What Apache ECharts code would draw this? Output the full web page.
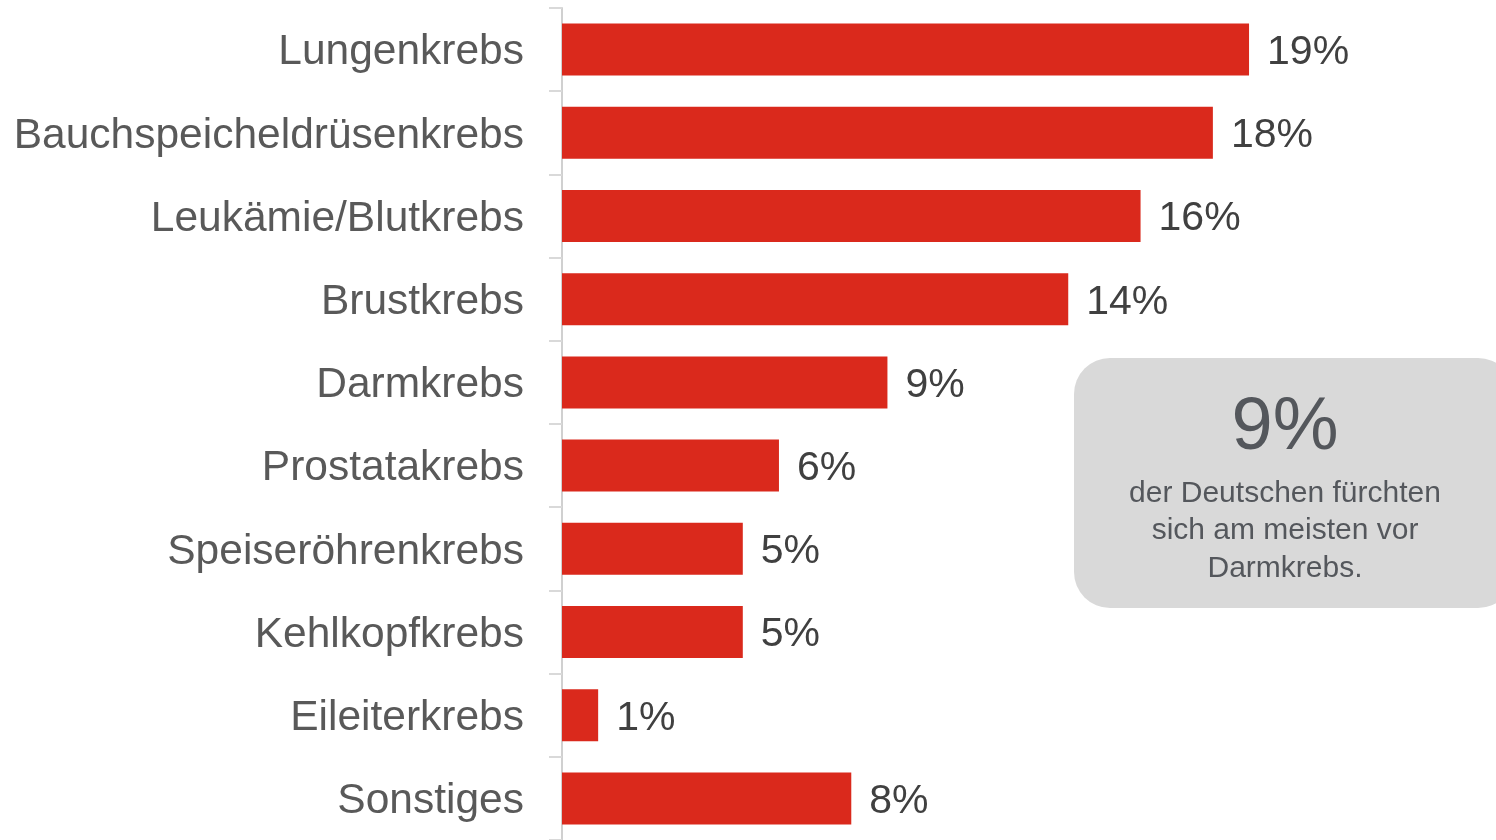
<!DOCTYPE html>
<html>
<head>
<meta charset="utf-8">
<script src="https://cdn.jsdelivr.net/npm/echarts@6/dist/echarts.min.js"></script>
<style>
html,body{margin:0;padding:0;background:#fff;}
#chart{width:1496px;height:840px;}
</style>
</head>
<body>
<div id="chart"></div>
<script>
var categories = ["Lungenkrebs","Bauchspeicheldrüsenkrebs","Leukämie/Blutkrebs","Brustkrebs","Darmkrebs","Prostatakrebs","Speiseröhrenkrebs","Kehlkopfkrebs","Eileiterkrebs","Sonstiges"];
var values = [19,18,16,14,9,6,5,5,1,8];
var calloutValue = "9%";
var calloutText = "der Deutschen fürchten\nsich am meisten vor\nDarmkrebs.";

var chart = echarts.init(document.getElementById('chart'));
var font = '"Liberation Sans", Arial, sans-serif';
chart.setOption({
  animation:false,
  grid:{left:562, right:30, top:8, bottom:-2, containLabel:false},
  xAxis:{type:'value', min:0, max:25, show:false},
  yAxis:{
    type:'category', data:categories, inverse:true,
    axisLine:{show:true, lineStyle:{color:'#d0d0d0', width:2}},
    axisTick:{show:true, length:13, lineStyle:{color:'#d9d9d9', width:2}},
    axisLabel:{
      margin:38,
      formatter:function(v){ return '{a|' + v + '}'; },
      rich:{a:{color:'#595959', fontSize:42.5, fontFamily:font, padding:[6,0,0,0]}}
    }
  },
  series:[{
    type:'bar', data:values, barWidth:52,
    itemStyle:{color:'#da291c'},
    label:{show:true, position:'right', distance:18, offset:[0,3], formatter:'{c}%', color:'#404040', fontSize:41, fontFamily:font}
  }],
  graphic:[
    {type:'rect', left:1074, top:358, shape:{width:440, height:250, r:36}, style:{fill:'#d9d9d9'}, z:10},
    {type:'text', x:1285, y:429, z:11, style:{text:calloutValue, fill:'#54575c', font:'74px "Liberation Sans", Arial, sans-serif', textAlign:'center', textVerticalAlign:'middle'}},
    {type:'text', x:1285, y:531, z:11, style:{text:calloutText, fill:'#54575c', font:'30px "Liberation Sans", Arial, sans-serif', textAlign:'center', textVerticalAlign:'middle', lineHeight:37.5}}
  ]
});
</script>
</body>
</html>
